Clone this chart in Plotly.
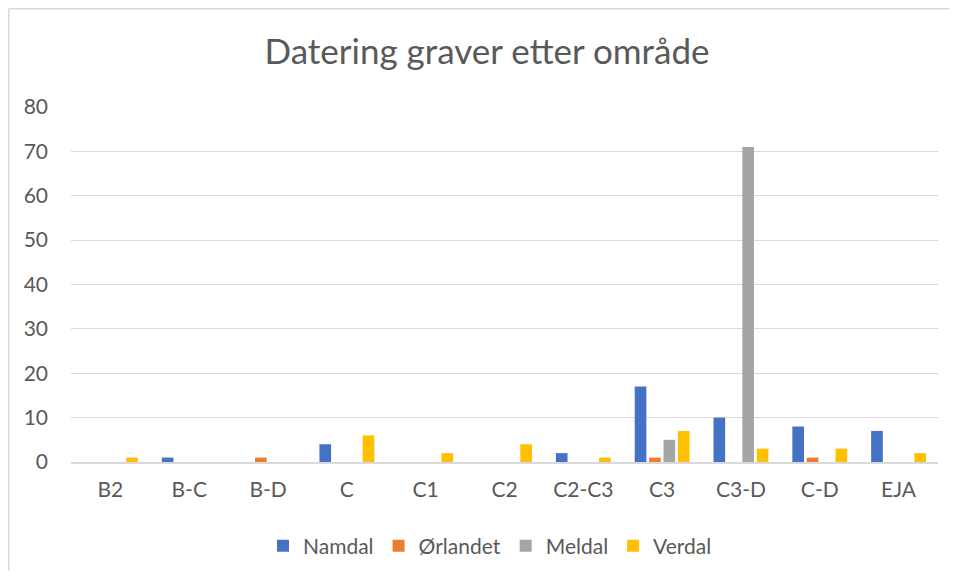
import plotly.graph_objects as go

categories = ["B2", "B-C", "B-D", "C", "C1", "C2", "C2-C3", "C3", "C3-D", "C-D", "EJA"]
namdal =    [0, 1, 0, 4, 0, 0, 2, 17, 10, 8, 7]
orlandet =  [0, 0, 1, 0, 0, 0, 0, 1, 0, 1, 0]
meldal =    [0, 0, 0, 0, 0, 0, 0, 5, 71, 0, 0]
verdal =    [1, 0, 0, 6, 2, 4, 1, 7, 3, 3, 2]
series_names = ["Namdal", "Ørlandet", "Meldal", "Verdal"]
colors = ["#4472C4", "#ED7D31", "#A5A5A5", "#FFC000"]
title = "Datering graver etter område"

font_family = "Lato, 'Open Sans', sans-serif"
W, H = 941, 563          # page has an 8px body margin; keep within viewport (no scrollbars)
L, R, T, B = 63, 11, 99, 109
pw, ph = W - L - R, H - T - B

fig = go.Figure()
for name, vals, col in zip(series_names, [namdal, orlandet, meldal, verdal], colors):
    fig.add_trace(go.Bar(x=categories, y=vals, name=name, marker_color=col,
                         marker_line_width=0))

bx = (0.75 - L) / pw
by = (T + ph - 0.75) / ph
border = dict(color="#D9D9D9", width=1.5)

fig.update_layout(
    width=W, height=H,
    margin=dict(l=L, r=R, t=T, b=B, autoexpand=False),
    paper_bgcolor="white", plot_bgcolor="white",
    barmode="group", bargap=0.269, bargroupgap=0.19,
    font=dict(family=font_family, color="#595959", size=21),
    title=dict(text=title, xref="container", x=479 / W, xanchor="center",
               yref="container", y=1 - 44 / H, yanchor="middle",
               font=dict(size=35, color="#595959", family=font_family)),
    showlegend=True,
    legend=dict(orientation="h", x=(482 - L) / pw, xanchor="center",
                y=(ph + T - 538) / ph, yanchor="middle",
                font=dict(size=21, color="#595959"), itemwidth=30, traceorder="normal"),
    xaxis=dict(showgrid=False, showline=True, linecolor="#D9D9D9", linewidth=1.5,
               ticks="", tickfont=dict(size=21, color="#595959"), fixedrange=True,
               ticklabelstandoff=8),
    yaxis=dict(range=[0, 80], dtick=10, showgrid=True, gridcolor="#D9D9D9", gridwidth=1.2,
               zeroline=False, showline=False, ticks="", ticklabelstandoff=22,
               tickfont=dict(size=21, color="#595959")),
    shapes=[
        dict(type="line", xref="paper", yref="paper", x0=bx, x1=bx, y0=-2.0, y1=by,
             line=border, layer="below"),
        dict(type="line", xref="paper", yref="paper", x0=bx, x1=2.0, y0=by, y1=by,
             line=border, layer="below"),
    ],
)

fig.write_html("out.html")
